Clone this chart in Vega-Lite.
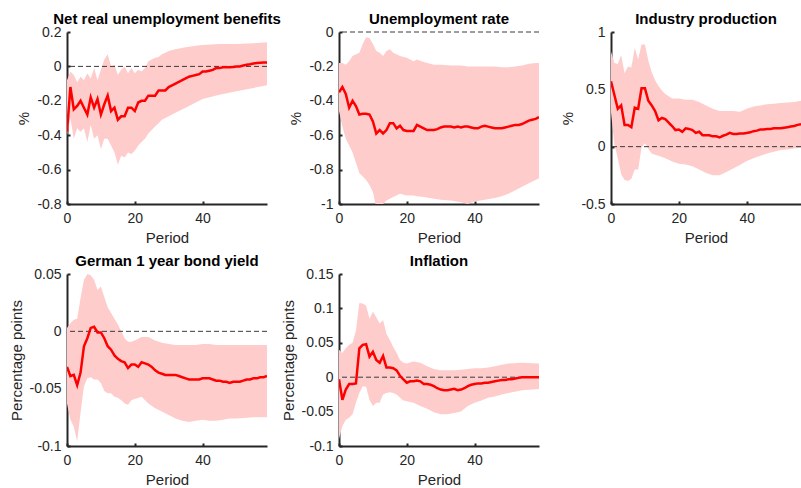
{
  "$schema": "https://vega.github.io/schema/vega-lite/v6.json",
  "background": "white",
  "padding": {"left": 9, "top": 11, "right": 0, "bottom": 0},
  "autosize": {"type": "pad"},
  "bounds": "flush",
  "columns": 3,
  "spacing": {"row": 70, "column": 72},
  "config": {
    "view": {"stroke": null},
    "font": "Liberation Sans",
    "axis": {"domainColor": "#262626", "domainWidth": 2, "tickColor": "#262626", "tickWidth": 2, "tickSize": -3, "tickCount": 20, "labelFontSize": 14, "labelColor": "#262626", "labelFont": "Liberation Sans", "titleFont": "Liberation Sans", "titleFontSize": 15, "titleFontWeight": "normal", "titleColor": "#262626", "grid": false, "labelFlush": false, "labelOverlap": false},
    "axisX": {"labelPadding": 10, "titlePadding": 5},
    "axisY": {"labelPadding": 9, "titlePadding": 5},
    "title": {"font": "Liberation Sans", "fontSize": 15, "fontWeight": "bold", "color": "#000000", "frame": "group", "baseline": "alphabetic", "offset": -1.5, "anchor": "middle"}
  },
  "datasets": {
    "m1": [{"x":0,"m":-0.38},{"x":1,"m":-0.12},{"x":2,"m":-0.25},{"x":3,"m":-0.23},{"x":4,"m":-0.2},{"x":5,"m":-0.24},{"x":6,"m":-0.28},{"x":7,"m":-0.18},{"x":8,"m":-0.24},{"x":9,"m":-0.19},{"x":10,"m":-0.28},{"x":11,"m":-0.22},{"x":12,"m":-0.17},{"x":13,"m":-0.26},{"x":14,"m":-0.24},{"x":15,"m":-0.31},{"x":16,"m":-0.29},{"x":17,"m":-0.29},{"x":18,"m":-0.24},{"x":19,"m":-0.24},{"x":20,"m":-0.26},{"x":21,"m":-0.21},{"x":22,"m":-0.2},{"x":23,"m":-0.2},{"x":24,"m":-0.17},{"x":25,"m":-0.17},{"x":26,"m":-0.17},{"x":27,"m":-0.14},{"x":28,"m":-0.14},{"x":29,"m":-0.14},{"x":30,"m":-0.12},{"x":31,"m":-0.11},{"x":32,"m":-0.1},{"x":33,"m":-0.09},{"x":34,"m":-0.08},{"x":35,"m":-0.07},{"x":36,"m":-0.06},{"x":37,"m":-0.055},{"x":38,"m":-0.05},{"x":39,"m":-0.045},{"x":40,"m":-0.03},{"x":41,"m":-0.03},{"x":42,"m":-0.025},{"x":43,"m":-0.02},{"x":44,"m":-0.01},{"x":45,"m":-0.01},{"x":46,"m":-0.005},{"x":47,"m":-0.005},{"x":48,"m":-0.005},{"x":49,"m":-0.003},{"x":50,"m":0},{"x":51,"m":0},{"x":52,"m":0.005},{"x":53,"m":0.01},{"x":54,"m":0.013},{"x":55,"m":0.017},{"x":56,"m":0.02},{"x":57,"m":0.021},{"x":58,"m":0.022},{"x":59,"m":0.023}],
    "b1": [{"x":0,"lo":-0.4,"hi":-0.08},{"x":1,"lo":-0.3,"hi":-0.03},{"x":2,"lo":-0.42,"hi":-0.05},{"x":3,"lo":-0.36,"hi":-0.09},{"x":4,"lo":-0.38,"hi":-0.06},{"x":5,"lo":-0.36,"hi":-0.08},{"x":6,"lo":-0.44,"hi":-0.04},{"x":7,"lo":-0.34,"hi":-0.07},{"x":8,"lo":-0.42,"hi":-0.01},{"x":9,"lo":-0.4,"hi":-0.08},{"x":10,"lo":-0.48,"hi":-0.02},{"x":11,"lo":-0.42,"hi":0.04},{"x":12,"lo":-0.42,"hi":0.07},{"x":13,"lo":-0.46,"hi":0.0},{"x":14,"lo":-0.5,"hi":0.01},{"x":15,"lo":-0.57,"hi":-0.05},{"x":16,"lo":-0.52,"hi":-0.02},{"x":17,"lo":-0.53,"hi":0.0},{"x":18,"lo":-0.5,"hi":-0.04},{"x":19,"lo":-0.51,"hi":-0.01},{"x":20,"lo":-0.49,"hi":-0.04},{"x":21,"lo":-0.46,"hi":-0.02},{"x":22,"lo":-0.44,"hi":-0.03},{"x":23,"lo":-0.42,"hi":-0.01},{"x":24,"lo":-0.39,"hi":0.03},{"x":25,"lo":-0.37,"hi":0.04},{"x":26,"lo":-0.35,"hi":0.05},{"x":27,"lo":-0.33,"hi":0.055},{"x":28,"lo":-0.31,"hi":0.07},{"x":29,"lo":-0.3,"hi":0.08},{"x":30,"lo":-0.29,"hi":0.09},{"x":32,"lo":-0.27,"hi":0.1},{"x":35,"lo":-0.24,"hi":0.112},{"x":38,"lo":-0.21,"hi":0.12},{"x":40,"lo":-0.19,"hi":0.125},{"x":45,"lo":-0.165,"hi":0.13},{"x":50,"lo":-0.145,"hi":0.13},{"x":55,"lo":-0.125,"hi":0.135},{"x":59,"lo":-0.11,"hi":0.14}],
    "m2": [{"x":0,"m":-0.35},{"x":1,"m":-0.32},{"x":2,"m":-0.36},{"x":3,"m":-0.44},{"x":4,"m":-0.4},{"x":5,"m":-0.43},{"x":6,"m":-0.48},{"x":7,"m":-0.475},{"x":8,"m":-0.475},{"x":9,"m":-0.48},{"x":10,"m":-0.52},{"x":11,"m":-0.59},{"x":12,"m":-0.57},{"x":13,"m":-0.59},{"x":14,"m":-0.57},{"x":15,"m":-0.53},{"x":16,"m":-0.53},{"x":17,"m":-0.56},{"x":18,"m":-0.545},{"x":19,"m":-0.57},{"x":20,"m":-0.575},{"x":21,"m":-0.575},{"x":22,"m":-0.575},{"x":23,"m":-0.54},{"x":24,"m":-0.55},{"x":25,"m":-0.56},{"x":26,"m":-0.57},{"x":27,"m":-0.57},{"x":28,"m":-0.57},{"x":29,"m":-0.565},{"x":30,"m":-0.555},{"x":31,"m":-0.55},{"x":32,"m":-0.55},{"x":33,"m":-0.55},{"x":34,"m":-0.555},{"x":35,"m":-0.55},{"x":36,"m":-0.555},{"x":37,"m":-0.55},{"x":38,"m":-0.55},{"x":39,"m":-0.555},{"x":40,"m":-0.56},{"x":41,"m":-0.56},{"x":42,"m":-0.55},{"x":43,"m":-0.545},{"x":44,"m":-0.55},{"x":45,"m":-0.555},{"x":46,"m":-0.56},{"x":47,"m":-0.56},{"x":48,"m":-0.56},{"x":49,"m":-0.555},{"x":50,"m":-0.55},{"x":51,"m":-0.545},{"x":52,"m":-0.54},{"x":53,"m":-0.54},{"x":54,"m":-0.535},{"x":55,"m":-0.525},{"x":56,"m":-0.515},{"x":57,"m":-0.51},{"x":58,"m":-0.505},{"x":59,"m":-0.495}],
    "b2": [{"x":0,"lo":-0.46,"hi":-0.18},{"x":1,"lo":-0.55,"hi":-0.18},{"x":2,"lo":-0.62,"hi":-0.19},{"x":3,"lo":-0.66,"hi":-0.17},{"x":4,"lo":-0.7,"hi":-0.14},{"x":5,"lo":-0.76,"hi":-0.13},{"x":6,"lo":-0.82,"hi":-0.12},{"x":7,"lo":-0.84,"hi":-0.07},{"x":8,"lo":-0.86,"hi":-0.03},{"x":9,"lo":-0.89,"hi":-0.035},{"x":10,"lo":-0.93,"hi":-0.07},{"x":11,"lo":-1.02,"hi":-0.11},{"x":12,"lo":-1.02,"hi":-0.12},{"x":13,"lo":-1.0,"hi":-0.14},{"x":14,"lo":-0.98,"hi":-0.11},{"x":15,"lo":-0.97,"hi":-0.1},{"x":16,"lo":-0.96,"hi":-0.12},{"x":18,"lo":-0.94,"hi":-0.14},{"x":20,"lo":-0.95,"hi":-0.15},{"x":22,"lo":-0.95,"hi":-0.17},{"x":23,"lo":-0.955,"hi":-0.16},{"x":25,"lo":-0.96,"hi":-0.175},{"x":28,"lo":-0.97,"hi":-0.19},{"x":30,"lo":-0.975,"hi":-0.19},{"x":33,"lo":-0.98,"hi":-0.195},{"x":36,"lo":-0.99,"hi":-0.195},{"x":38,"lo":-1.0,"hi":-0.2},{"x":40,"lo":-0.985,"hi":-0.2},{"x":43,"lo":-0.975,"hi":-0.2},{"x":46,"lo":-0.965,"hi":-0.2},{"x":48,"lo":-0.955,"hi":-0.205},{"x":50,"lo":-0.94,"hi":-0.205},{"x":52,"lo":-0.92,"hi":-0.2},{"x":54,"lo":-0.9,"hi":-0.195},{"x":56,"lo":-0.88,"hi":-0.185},{"x":58,"lo":-0.86,"hi":-0.18},{"x":59,"lo":-0.85,"hi":-0.18}],
    "m3": [{"x":0,"m":0.57},{"x":1,"m":0.45},{"x":2,"m":0.33},{"x":3,"m":0.36},{"x":4,"m":0.19},{"x":5,"m":0.19},{"x":6,"m":0.17},{"x":7,"m":0.34},{"x":8,"m":0.33},{"x":9,"m":0.51},{"x":10,"m":0.51},{"x":11,"m":0.4},{"x":12,"m":0.36},{"x":13,"m":0.31},{"x":14,"m":0.23},{"x":15,"m":0.25},{"x":16,"m":0.24},{"x":17,"m":0.21},{"x":18,"m":0.18},{"x":19,"m":0.145},{"x":20,"m":0.15},{"x":21,"m":0.13},{"x":22,"m":0.16},{"x":23,"m":0.155},{"x":24,"m":0.145},{"x":25,"m":0.12},{"x":26,"m":0.13},{"x":27,"m":0.1},{"x":28,"m":0.1},{"x":29,"m":0.1},{"x":30,"m":0.09},{"x":31,"m":0.09},{"x":32,"m":0.08},{"x":33,"m":0.095},{"x":34,"m":0.105},{"x":35,"m":0.12},{"x":36,"m":0.11},{"x":37,"m":0.11},{"x":38,"m":0.115},{"x":39,"m":0.115},{"x":40,"m":0.12},{"x":41,"m":0.125},{"x":42,"m":0.135},{"x":43,"m":0.14},{"x":44,"m":0.15},{"x":45,"m":0.15},{"x":46,"m":0.155},{"x":47,"m":0.155},{"x":48,"m":0.16},{"x":49,"m":0.16},{"x":50,"m":0.16},{"x":51,"m":0.165},{"x":52,"m":0.17},{"x":53,"m":0.175},{"x":54,"m":0.18},{"x":55,"m":0.19},{"x":56,"m":0.195}],
    "b3": [{"x":0,"lo":0.3,"hi":0.83},{"x":1,"lo":0.02,"hi":0.73},{"x":2,"lo":-0.1,"hi":0.72},{"x":3,"lo":-0.24,"hi":0.8},{"x":4,"lo":-0.29,"hi":0.64},{"x":5,"lo":-0.3,"hi":0.7},{"x":6,"lo":-0.28,"hi":0.69},{"x":7,"lo":-0.2,"hi":0.86},{"x":8,"lo":-0.2,"hi":0.76},{"x":9,"lo":-0.01,"hi":0.89},{"x":10,"lo":0.03,"hi":0.89},{"x":11,"lo":-0.02,"hi":0.75},{"x":12,"lo":-0.06,"hi":0.65},{"x":13,"lo":-0.07,"hi":0.58},{"x":14,"lo":-0.08,"hi":0.53},{"x":15,"lo":-0.09,"hi":0.49},{"x":16,"lo":-0.1,"hi":0.46},{"x":17,"lo":-0.115,"hi":0.44},{"x":18,"lo":-0.13,"hi":0.42},{"x":20,"lo":-0.15,"hi":0.42},{"x":22,"lo":-0.155,"hi":0.41},{"x":24,"lo":-0.17,"hi":0.41},{"x":26,"lo":-0.2,"hi":0.39},{"x":28,"lo":-0.23,"hi":0.36},{"x":30,"lo":-0.25,"hi":0.33},{"x":32,"lo":-0.25,"hi":0.31},{"x":34,"lo":-0.22,"hi":0.31},{"x":36,"lo":-0.19,"hi":0.31},{"x":38,"lo":-0.16,"hi":0.305},{"x":40,"lo":-0.125,"hi":0.33},{"x":42,"lo":-0.1,"hi":0.35},{"x":44,"lo":-0.08,"hi":0.36},{"x":46,"lo":-0.06,"hi":0.37},{"x":48,"lo":-0.045,"hi":0.375},{"x":50,"lo":-0.03,"hi":0.38},{"x":52,"lo":-0.025,"hi":0.385},{"x":54,"lo":-0.015,"hi":0.39},{"x":56,"lo":-0.01,"hi":0.4}],
    "m4": [{"x":0,"m":-0.031},{"x":1,"m":-0.039},{"x":2,"m":-0.038},{"x":3,"m":-0.047},{"x":4,"m":-0.036},{"x":5,"m":-0.013},{"x":6,"m":-0.006},{"x":7,"m":0.003},{"x":8,"m":0.004},{"x":9,"m":-0.001},{"x":10,"m":-0.001},{"x":11,"m":-0.006},{"x":12,"m":-0.013},{"x":13,"m":-0.016},{"x":14,"m":-0.021},{"x":15,"m":-0.024},{"x":16,"m":-0.026},{"x":17,"m":-0.027},{"x":18,"m":-0.032},{"x":19,"m":-0.029},{"x":20,"m":-0.029},{"x":21,"m":-0.031},{"x":22,"m":-0.027},{"x":23,"m":-0.028},{"x":24,"m":-0.029},{"x":25,"m":-0.031},{"x":26,"m":-0.034},{"x":27,"m":-0.036},{"x":28,"m":-0.037},{"x":29,"m":-0.038},{"x":30,"m":-0.038},{"x":31,"m":-0.038},{"x":32,"m":-0.038},{"x":33,"m":-0.039},{"x":34,"m":-0.04},{"x":35,"m":-0.041},{"x":36,"m":-0.042},{"x":37,"m":-0.042},{"x":38,"m":-0.042},{"x":39,"m":-0.042},{"x":40,"m":-0.041},{"x":41,"m":-0.041},{"x":42,"m":-0.041},{"x":43,"m":-0.042},{"x":44,"m":-0.043},{"x":45,"m":-0.043},{"x":46,"m":-0.044},{"x":47,"m":-0.044},{"x":48,"m":-0.045},{"x":49,"m":-0.044},{"x":50,"m":-0.044},{"x":51,"m":-0.044},{"x":52,"m":-0.043},{"x":53,"m":-0.042},{"x":54,"m":-0.042},{"x":55,"m":-0.041},{"x":56,"m":-0.041},{"x":57,"m":-0.04},{"x":58,"m":-0.04},{"x":59,"m":-0.039}],
    "b4": [{"x":0,"lo":-0.063,"hi":0.003},{"x":1,"lo":-0.077,"hi":0.007},{"x":2,"lo":-0.083,"hi":0.01},{"x":3,"lo":-0.096,"hi":0.011},{"x":4,"lo":-0.071,"hi":0.029},{"x":5,"lo":-0.048,"hi":0.045},{"x":6,"lo":-0.041,"hi":0.05},{"x":7,"lo":-0.04,"hi":0.049},{"x":8,"lo":-0.042,"hi":0.045},{"x":9,"lo":-0.042,"hi":0.036},{"x":10,"lo":-0.045,"hi":0.039},{"x":11,"lo":-0.052,"hi":0.03},{"x":12,"lo":-0.054,"hi":0.021},{"x":13,"lo":-0.054,"hi":0.016},{"x":14,"lo":-0.057,"hi":0.011},{"x":15,"lo":-0.058,"hi":0.006},{"x":16,"lo":-0.06,"hi":0.0},{"x":17,"lo":-0.063,"hi":-0.006},{"x":18,"lo":-0.064,"hi":-0.009},{"x":19,"lo":-0.06,"hi":-0.009},{"x":20,"lo":-0.059,"hi":-0.008},{"x":22,"lo":-0.057,"hi":-0.005},{"x":24,"lo":-0.063,"hi":-0.005},{"x":26,"lo":-0.067,"hi":-0.008},{"x":28,"lo":-0.07,"hi":-0.01},{"x":30,"lo":-0.073,"hi":-0.011},{"x":32,"lo":-0.076,"hi":-0.012},{"x":34,"lo":-0.078,"hi":-0.012},{"x":36,"lo":-0.079,"hi":-0.012},{"x":38,"lo":-0.078,"hi":-0.012},{"x":40,"lo":-0.077,"hi":-0.011},{"x":42,"lo":-0.078,"hi":-0.011},{"x":44,"lo":-0.078,"hi":-0.012},{"x":46,"lo":-0.077,"hi":-0.012},{"x":48,"lo":-0.076,"hi":-0.012},{"x":50,"lo":-0.076,"hi":-0.012},{"x":55,"lo":-0.075,"hi":-0.012},{"x":59,"lo":-0.075,"hi":-0.012}],
    "m5": [{"x":0,"m":-0.003},{"x":1,"m":-0.033},{"x":2,"m":-0.018},{"x":3,"m":-0.01},{"x":4,"m":-0.01},{"x":5,"m":-0.009},{"x":6,"m":0.042},{"x":7,"m":0.047},{"x":8,"m":0.048},{"x":9,"m":0.03},{"x":10,"m":0.037},{"x":11,"m":0.025},{"x":12,"m":0.021},{"x":13,"m":0.031},{"x":14,"m":0.014},{"x":15,"m":0.014},{"x":16,"m":0.013},{"x":17,"m":0.01},{"x":18,"m":0.002},{"x":19,"m":-0.003},{"x":20,"m":-0.008},{"x":21,"m":-0.006},{"x":22,"m":-0.006},{"x":23,"m":-0.005},{"x":24,"m":-0.006},{"x":25,"m":-0.01},{"x":26,"m":-0.01},{"x":27,"m":-0.011},{"x":28,"m":-0.013},{"x":29,"m":-0.016},{"x":30,"m":-0.018},{"x":31,"m":-0.019},{"x":32,"m":-0.019},{"x":33,"m":-0.018},{"x":34,"m":-0.017},{"x":35,"m":-0.019},{"x":36,"m":-0.018},{"x":37,"m":-0.016},{"x":38,"m":-0.013},{"x":39,"m":-0.011},{"x":40,"m":-0.01},{"x":41,"m":-0.009},{"x":42,"m":-0.009},{"x":43,"m":-0.008},{"x":44,"m":-0.008},{"x":45,"m":-0.007},{"x":46,"m":-0.006},{"x":47,"m":-0.005},{"x":48,"m":-0.004},{"x":49,"m":-0.004},{"x":50,"m":-0.003},{"x":51,"m":-0.003},{"x":52,"m":-0.002},{"x":53,"m":-0.001},{"x":54,"m":0},{"x":55,"m":0},{"x":56,"m":0},{"x":57,"m":0},{"x":58,"m":0},{"x":59,"m":0}],
    "b5": [{"x":0,"lo":-0.09,"hi":0.04},{"x":1,"lo":-0.071,"hi":0.035},{"x":2,"lo":-0.062,"hi":0.042},{"x":3,"lo":-0.059,"hi":0.047},{"x":4,"lo":-0.054,"hi":0.05},{"x":5,"lo":-0.037,"hi":0.068},{"x":6,"lo":-0.023,"hi":0.108},{"x":7,"lo":-0.013,"hi":0.107},{"x":8,"lo":-0.014,"hi":0.104},{"x":9,"lo":-0.033,"hi":0.085},{"x":10,"lo":-0.042,"hi":0.095},{"x":11,"lo":-0.037,"hi":0.087},{"x":12,"lo":-0.037,"hi":0.078},{"x":13,"lo":-0.025,"hi":0.083},{"x":14,"lo":-0.023,"hi":0.063},{"x":15,"lo":-0.022,"hi":0.054},{"x":16,"lo":-0.023,"hi":0.044},{"x":17,"lo":-0.025,"hi":0.035},{"x":18,"lo":-0.03,"hi":0.025},{"x":19,"lo":-0.034,"hi":0.021},{"x":20,"lo":-0.035,"hi":0.02},{"x":22,"lo":-0.037,"hi":0.023},{"x":24,"lo":-0.042,"hi":0.021},{"x":26,"lo":-0.046,"hi":0.016},{"x":28,"lo":-0.051,"hi":0.012},{"x":30,"lo":-0.054,"hi":0.01},{"x":32,"lo":-0.054,"hi":0.01},{"x":34,"lo":-0.052,"hi":0.01},{"x":36,"lo":-0.05,"hi":0.011},{"x":38,"lo":-0.042,"hi":0.012},{"x":40,"lo":-0.037,"hi":0.013},{"x":42,"lo":-0.034,"hi":0.013},{"x":44,"lo":-0.03,"hi":0.014},{"x":46,"lo":-0.028,"hi":0.016},{"x":48,"lo":-0.025,"hi":0.018},{"x":50,"lo":-0.023,"hi":0.02},{"x":54,"lo":-0.019,"hi":0.021},{"x":59,"lo":-0.017,"hi":0.02}]
  },
  "concat": [
    {
      "width": 200, "height": 172,
      "title": "Net real unemployment benefits",
      "layer": [
        {"data": {"name": "b1"}, "mark": {"type": "area", "color": "#FFCCCC", "opacity": 1, "clip": true},
         "encoding": {
           "x": {"field": "x", "type": "quantitative", "scale": {"domain": [0, 59], "nice": false, "zero": false}, "axis": {"title": "Period", "values": [0, 20, 40], "format": "d", "tickCount": 20}},
           "y": {"field": "lo", "type": "quantitative", "scale": {"domain": [-0.8, 0.2], "nice": false, "zero": false}, "axis": {"title": "%", "values": [-0.8, -0.6, -0.4, -0.2, 0, 0.2], "tickCount": 20, "format": "~g", "labelExpr": "replace(datum.label, '\u2212', '-')"}},
           "y2": {"field": "hi"}}},
        {"data": {"values": [{}]}, "mark": {"type": "rule", "color": "#3a3a3a", "strokeDash": [5, 3], "strokeWidth": 1}, "encoding": {"y": {"datum": 0}}},
        {"data": {"name": "m1"}, "mark": {"type": "line", "color": "#FF0000", "strokeWidth": 2.5, "clip": true},
         "encoding": {"x": {"field": "x", "type": "quantitative", "title": "Period"}, "y": {"field": "m", "type": "quantitative", "title": "%"}}}
      ]
    },
    {
      "width": 200, "height": 172,
      "title": "Unemployment rate",
      "layer": [
        {"data": {"name": "b2"}, "mark": {"type": "area", "color": "#FFCCCC", "opacity": 1, "clip": true},
         "encoding": {
           "x": {"field": "x", "type": "quantitative", "scale": {"domain": [0, 59], "nice": false, "zero": false}, "axis": {"title": "Period", "values": [0, 20, 40], "format": "d", "tickCount": 20}},
           "y": {"field": "lo", "type": "quantitative", "scale": {"domain": [-1, 0], "nice": false, "zero": false}, "axis": {"title": "%", "values": [-1, -0.8, -0.6, -0.4, -0.2, 0], "tickCount": 20, "format": "~g", "labelExpr": "replace(datum.label, '\u2212', '-')"}},
           "y2": {"field": "hi"}}},
        {"data": {"values": [{}]}, "mark": {"type": "rule", "color": "#3a3a3a", "strokeDash": [5, 3], "strokeWidth": 1}, "encoding": {"y": {"datum": 0}}},
        {"data": {"name": "m2"}, "mark": {"type": "line", "color": "#FF0000", "strokeWidth": 2.5, "clip": true},
         "encoding": {"x": {"field": "x", "type": "quantitative", "title": "Period"}, "y": {"field": "m", "type": "quantitative", "title": "%"}}}
      ]
    },
    {
      "width": 190, "height": 172,
      "title": "Industry production",
      "layer": [
        {"data": {"name": "b3"}, "mark": {"type": "area", "color": "#FFCCCC", "opacity": 1, "clip": true},
         "encoding": {
           "x": {"field": "x", "type": "quantitative", "scale": {"domain": [0, 56], "nice": false, "zero": false}, "axis": {"title": "Period", "values": [0, 20, 40], "format": "d", "tickCount": 20}},
           "y": {"field": "lo", "type": "quantitative", "scale": {"domain": [-0.5, 1], "nice": false, "zero": false}, "axis": {"title": "%", "values": [-0.5, 0, 0.5, 1], "tickCount": 20, "format": "~g", "labelExpr": "replace(datum.label, '\u2212', '-')"}},
           "y2": {"field": "hi"}}},
        {"data": {"values": [{}]}, "mark": {"type": "rule", "color": "#3a3a3a", "strokeDash": [5, 3], "strokeWidth": 1}, "encoding": {"y": {"datum": 0}}},
        {"data": {"name": "m3"}, "mark": {"type": "line", "color": "#FF0000", "strokeWidth": 2.5, "clip": true},
         "encoding": {"x": {"field": "x", "type": "quantitative", "title": "Period"}, "y": {"field": "m", "type": "quantitative", "title": "%"}}}
      ]
    },
    {
      "width": 200, "height": 172,
      "title": "German 1 year bond yield",
      "layer": [
        {"data": {"name": "b4"}, "mark": {"type": "area", "color": "#FFCCCC", "opacity": 1, "clip": true},
         "encoding": {
           "x": {"field": "x", "type": "quantitative", "scale": {"domain": [0, 59], "nice": false, "zero": false}, "axis": {"title": "Period", "values": [0, 20, 40], "format": "d", "tickCount": 20}},
           "y": {"field": "lo", "type": "quantitative", "scale": {"domain": [-0.1, 0.05], "nice": false, "zero": false}, "axis": {"title": "Percentage points", "values": [-0.1, -0.05, 0, 0.05], "tickCount": 20, "format": "~g", "labelExpr": "replace(datum.label, '\u2212', '-')"}},
           "y2": {"field": "hi"}}},
        {"data": {"values": [{}]}, "mark": {"type": "rule", "color": "#3a3a3a", "strokeDash": [5, 3], "strokeWidth": 1}, "encoding": {"y": {"datum": 0}}},
        {"data": {"name": "m4"}, "mark": {"type": "line", "color": "#FF0000", "strokeWidth": 2.5, "clip": true},
         "encoding": {"x": {"field": "x", "type": "quantitative", "title": "Period"}, "y": {"field": "m", "type": "quantitative", "title": "Percentage points"}}}
      ]
    },
    {
      "width": 200, "height": 172,
      "title": "Inflation",
      "layer": [
        {"data": {"name": "b5"}, "mark": {"type": "area", "color": "#FFCCCC", "opacity": 1, "clip": true},
         "encoding": {
           "x": {"field": "x", "type": "quantitative", "scale": {"domain": [0, 59], "nice": false, "zero": false}, "axis": {"title": "Period", "values": [0, 20, 40], "format": "d", "tickCount": 20}},
           "y": {"field": "lo", "type": "quantitative", "scale": {"domain": [-0.1, 0.15], "nice": false, "zero": false}, "axis": {"title": "Percentage points", "values": [-0.1, -0.05, 0, 0.05, 0.1, 0.15], "tickCount": 20, "format": "~g", "labelExpr": "replace(datum.label, '\u2212', '-')"}},
           "y2": {"field": "hi"}}},
        {"data": {"values": [{}]}, "mark": {"type": "rule", "color": "#3a3a3a", "strokeDash": [5, 3], "strokeWidth": 1}, "encoding": {"y": {"datum": 0}}},
        {"data": {"name": "m5"}, "mark": {"type": "line", "color": "#FF0000", "strokeWidth": 2.5, "clip": true},
         "encoding": {"x": {"field": "x", "type": "quantitative", "title": "Period"}, "y": {"field": "m", "type": "quantitative", "title": "Percentage points"}}}
      ]
    }
  ]
}
